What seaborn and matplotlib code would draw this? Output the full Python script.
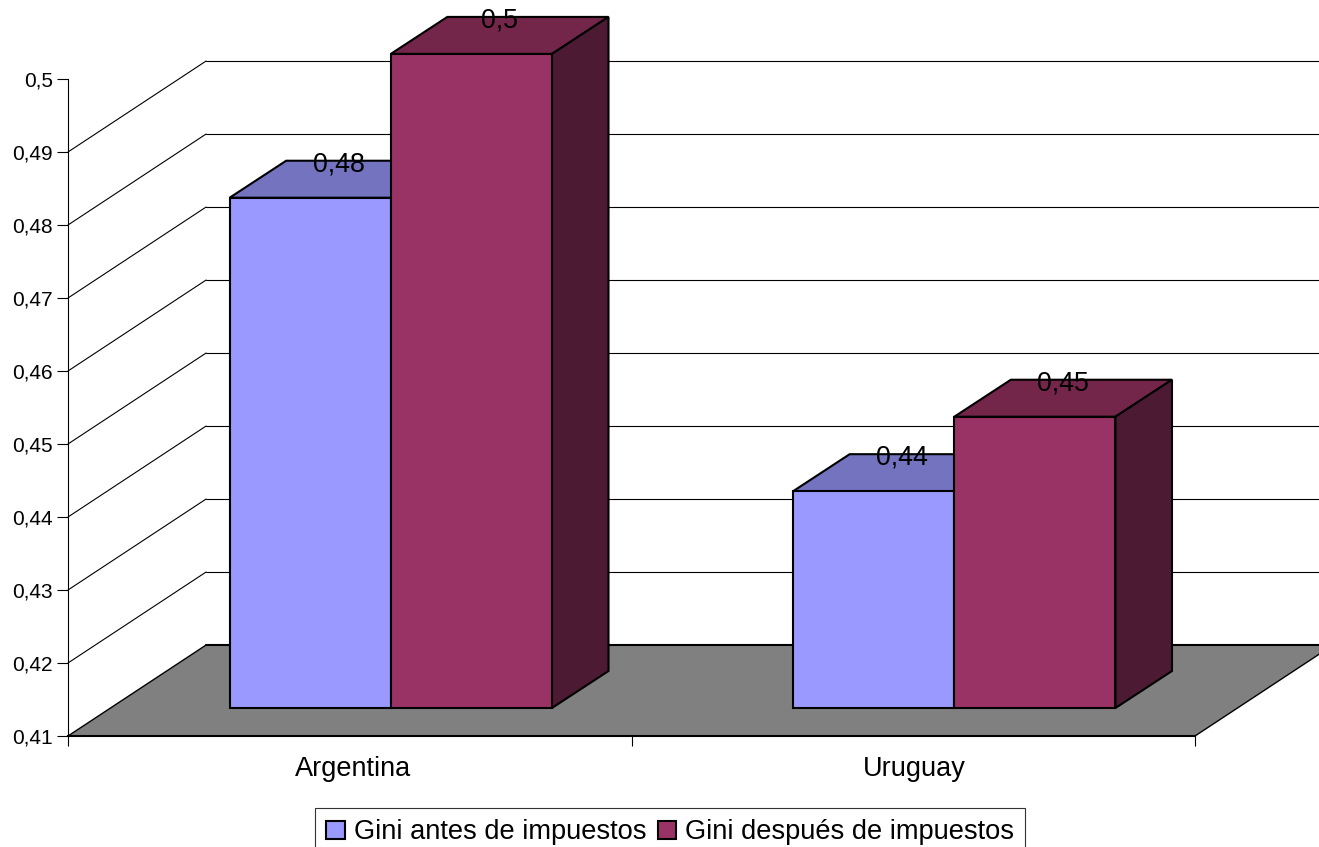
import pandas as pd
import seaborn as sns
import matplotlib.pyplot as plt
from matplotlib.patches import Polygon

paises = ["Argentina", "Uruguay"]
series = ["Gini antes de impuestos", "Gini después de impuestos"]
gini_antes = [0.4799, 0.4397]
gini_despues = [0.4996, 0.4499]
y_ticks = [0.41, 0.42, 0.43, 0.44, 0.45, 0.46, 0.47, 0.48, 0.49, 0.50]
y_tick_labels = ["0,41", "0,42", "0,43", "0,44", "0,45", "0,46", "0,47", "0,48", "0,49", "0,5"]
back_grid = [0.41, 0.42, 0.43, 0.44, 0.45, 0.46, 0.47, 0.48, 0.49]

colores = ["#9999FF", "#993366"]
colores_top = ["#7373BF", "#732649"]
colores_side = ["#4D4D80", "#4D1A33"]

# profundidad del falso 3D, en unidades de los ejes
Y0 = 0.41
WALL_DX, WALL_DY = 138 / 563, 91 / 7300
BAR_OFF_X, BAR_OFF_Y = 41 / 563, 28 / 7300
BAR_DX, BAR_DY = 56.5 / 563, 37 / 7300

df = pd.DataFrame({
    "pais": paises * 2,
    "serie": [series[0]] * 2 + [series[1]] * 2,
    "gini": gini_antes + gini_despues,
})

sns.set_theme(style="white")
plt.rcParams["font.family"] = ["Liberation Sans", "DejaVu Sans"]
plt.rcParams["text.color"] = "black"

W, H = 1319, 847
fig = plt.figure(figsize=(W / 100, H / 100), dpi=100)
ax = fig.add_axes([68 / W, 1 - 736 / H, (1195 - 68) / W, (736 - 79) / H])

sns.barplot(
    data=df, x="pais", y="gini", hue="serie", palette=colores,
    width=0.572, saturation=1, errorbar=None, edgecolor="black",
    linewidth=1.5, zorder=4, ax=ax,
)

ax.set_xlim(-0.5, 1.5)
ax.set_ylim(Y0, 0.50)
ax.set_xlabel("")
ax.set_ylabel("")

# suelo gris
x_r = 1.5 + WALL_DX
ax.add_patch(Polygon(
    [(-0.5, Y0), (-0.5 + WALL_DX, Y0 + WALL_DY), (x_r, Y0 + WALL_DY), (1.5, Y0)],
    closed=True, facecolor="#808080", edgecolor="none", clip_on=False, zorder=1,
))
ax.plot([-0.5, -0.5 + WALL_DX], [Y0, Y0 + WALL_DY], color="black", lw=1.0, clip_on=False, zorder=2)
ax.plot([1.5, x_r], [Y0, Y0 + WALL_DY], color="black", lw=1.0, clip_on=False, zorder=2)

# lineas de la pared
for v in back_grid:
    lw = 1.5 if v == Y0 else 0.8
    ax.plot([-0.5 + WALL_DX, x_r], [v + WALL_DY] * 2, color="black", lw=lw, clip_on=False, zorder=2)
    if v > Y0:
        ax.plot([-0.5, -0.5 + WALL_DX], [v, v + WALL_DY], color="black", lw=0.8, clip_on=False, zorder=2)

# caras de las barras
barras = [p for c in ax.containers for p in c]
colores_barras = [0, 0, 1, 1]
for p, i in zip(barras, colores_barras):
    top = p.get_height()
    x0 = p.get_x() + BAR_OFF_X
    w = p.get_width()
    p.set_x(x0)
    p.set_y(Y0 + BAR_OFF_Y)
    p.set_height(top - Y0)
    p.set_clip_on(False)
    y1 = top + BAR_OFF_Y
    y0 = Y0 + BAR_OFF_Y
    ax.add_patch(Polygon(
        [(x0, y1), (x0 + BAR_DX, y1 + BAR_DY), (x0 + w + BAR_DX, y1 + BAR_DY), (x0 + w, y1)],
        closed=True, facecolor=colores_top[i], edgecolor="black", lw=1.5, clip_on=False, zorder=3,
    ))
    ax.add_patch(Polygon(
        [(x0 + w, y0), (x0 + w, y1), (x0 + w + BAR_DX, y1 + BAR_DY), (x0 + w + BAR_DX, y0 + BAR_DY)],
        closed=True, facecolor=colores_side[i], edgecolor="black", lw=1.5, clip_on=False, zorder=3,
    ))
    etiqueta = f"{round(top, 2):g}".replace(".", ",")
    ax.text(
        x0 + w / 2 + BAR_DX / 2, y1 + BAR_DY - 0.0005, etiqueta,
        ha="center", va="center", fontsize=19.3, color="black", zorder=6, clip_on=False,
    )

# ejes
for s in ["top", "right"]:
    ax.spines[s].set_visible(False)
ax.spines["left"].set_color("black")
ax.spines["left"].set_linewidth(0.8)
ax.spines["bottom"].set_color("black")
ax.spines["bottom"].set_linewidth(1.5)
ax.spines["bottom"].set_zorder(2)

ax.set_yticks(y_ticks)
ax.set_yticklabels(y_tick_labels)
ax.tick_params(axis="y", left=True, length=8, width=0.8, color="black", labelsize=15, pad=3, labelcolor="black")
ax.set_xticks([0.006, 1.001])
ax.set_xticklabels(paises)
ax.tick_params(axis="x", which="major", bottom=False, length=0, labelsize=19.5, pad=14.5, labelcolor="black")
ax.set_xticks([-0.5, 0.5, 1.5], minor=True)
ax.tick_params(axis="x", which="minor", bottom=True, length=7.5, width=0.8, color="black")

handles, labels = ax.get_legend_handles_labels()
leg = ax.legend(
    handles=handles, labels=labels, ncol=2, loc="upper left",
    bbox_to_anchor=(315 / W, 1 - 808 / H), bbox_transform=fig.transFigure,
    borderaxespad=0, fontsize=19.6, frameon=True, fancybox=False,
    edgecolor="#333333", framealpha=1, handlelength=0.67, handleheight=0.67,
    handletextpad=0.33, columnspacing=0.42, borderpad=0.42, labelcolor="black",
)
leg.get_frame().set_linewidth(0.8)

fig.savefig("out.png", dpi=100)
plt.close(fig)
